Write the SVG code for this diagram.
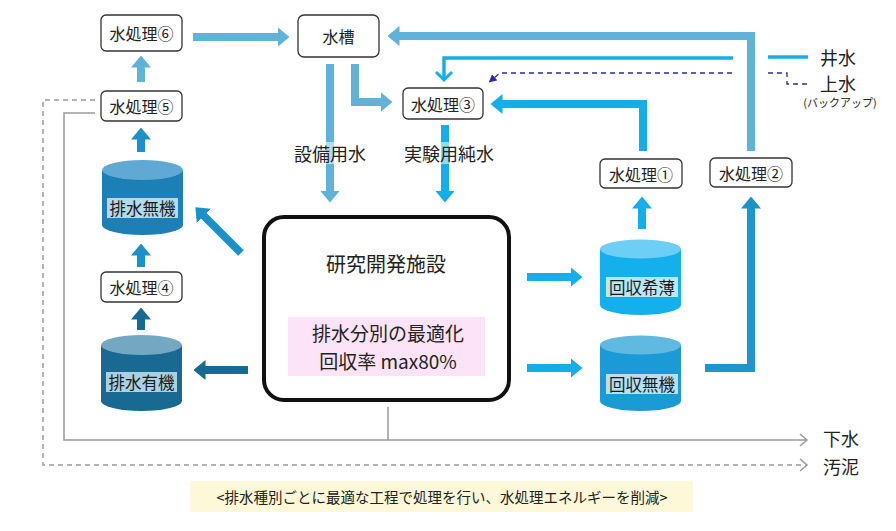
<svg xmlns="http://www.w3.org/2000/svg" width="896" height="531" viewBox="0 0 896 531">
<style>
text{font-family:"Noto Sans CJK JP","Noto Sans",sans-serif;fill:#222;}
.box{fill:#fff;stroke:#333;stroke-width:1.3;}
.nt{font-size:16px;text-anchor:middle;dominant-baseline:central;}
.lt{font-size:18px;text-anchor:middle;dominant-baseline:central;}
.cl{font-size:16.5px;text-anchor:middle;dominant-baseline:central;fill:#1a1a1a;}
.a{fill:none;stroke-width:8;}
.light{stroke:#5fb2d8;}
.bright{stroke:#14aee8;}
.med{stroke:#1a91c9;}
.dark{stroke:#176a91;}
.gray{fill:none;stroke:#9a9a9a;stroke-width:1.5;}
.gdash{fill:none;stroke:#9a9a9a;stroke-width:1.5;stroke-dasharray:5 4;}
</style>
<defs>
<marker id="hL" markerUnits="userSpaceOnUse" viewBox="0 0 12 20" markerWidth="12" markerHeight="20" refX="0.5" refY="10" orient="auto"><path d="M0,0L12,10L0,20z" fill="#5fb2d8"/></marker>
<marker id="hB" markerUnits="userSpaceOnUse" viewBox="0 0 12 20" markerWidth="12" markerHeight="20" refX="0.5" refY="10" orient="auto"><path d="M0,0L12,10L0,20z" fill="#14aee8"/></marker>
<marker id="hM" markerUnits="userSpaceOnUse" viewBox="0 0 12 20" markerWidth="12" markerHeight="20" refX="0.5" refY="10" orient="auto"><path d="M0,0L12,10L0,20z" fill="#1a91c9"/></marker>
<marker id="hD" markerUnits="userSpaceOnUse" viewBox="0 0 12 20" markerWidth="12" markerHeight="20" refX="0.5" refY="10" orient="auto"><path d="M0,0L12,10L0,20z" fill="#176a91"/></marker>
<marker id="hP" markerUnits="userSpaceOnUse" viewBox="0 0 8 8" markerWidth="8" markerHeight="8" refX="1" refY="4" orient="auto"><path d="M0,0L8,4L0,8z" fill="#2a2aa8"/></marker>
</defs>

<g id="connectors">
<path class="gray" d="M95,113H64V440H806"/>
<path class="gray" d="M388,407V440"/>
<path class="gray" d="M800,434L807,440L800,446"/>
<path class="gdash" d="M95,100H43V465H806"/>
<path class="gray" d="M800,459L807,465L800,471"/>

<path class="a light" d="M141,82V67" marker-end="url(#hL)"/>
<path class="a light" d="M193,37H278" marker-end="url(#hL)"/>
<path class="a light" d="M330,64V191" marker-end="url(#hL)"/>
<path class="a light" d="M355,64V102H381" marker-end="url(#hL)"/>
<path class="a light" d="M751,151V36H399" marker-end="url(#hL)"/>
<path class="a bright" d="M445,125V191" marker-end="url(#hB)"/>
<path class="a bright" d="M643,151V104H502" marker-end="url(#hB)"/>
<path class="a bright" d="M642,229V208" marker-end="url(#hB)"/>
<path class="a bright" d="M527,277H571" marker-end="url(#hB)"/>
<path class="a bright" d="M527,368H571" marker-end="url(#hB)"/>
<path class="a med" d="M141,152V139" marker-end="url(#hM)"/>
<path class="a med" d="M141,267V255" marker-end="url(#hM)"/>
<path class="a med" d="M241,253L203.5,215.5" marker-end="url(#hM)"/>
<path class="a med" style="stroke:#1a97cf" d="M705,368H751V208" marker-end="url(#hM)"/>
<path class="a dark" d="M141,330V319" marker-end="url(#hD)"/>
<path class="a dark" d="M248,370H205" marker-end="url(#hD)"/>
<path fill="none" stroke="#14aee8" stroke-width="3.5" d="M733,58H444V80"/>
<path fill="none" stroke="#14aee8" stroke-width="3" d="M436,72L444,80L452,72"/>
<path fill="none" stroke="#14aee8" stroke-width="3.5" d="M768,57H808"/>
<path fill="none" stroke="#2a2aa8" stroke-width="1.3" stroke-dasharray="5 4" d="M732,73H500L494,78" marker-end="url(#hP)"/>
<path fill="none" stroke="#2a2aa8" stroke-width="1.3" stroke-dasharray="5 4" d="M768,73H787V84H808"/>
</g>

<rect x="323" y="142" width="14" height="22" fill="#fff" opacity="0.55"/>
<rect x="438" y="142" width="14" height="22" fill="#fff" opacity="0.55"/>
<text class="lt" x="330" y="153">設備用水</text>
<text class="lt" x="449" y="153">実験用純水</text>

<g id="wt6"><rect class="box" x="101" y="15" width="81" height="36" rx="5"/><text class="nt" x="141.5" y="33">水処理⑥</text></g>
<g id="tank"><rect class="box" x="298" y="15" width="81" height="42" rx="6"/><text class="nt" x="338.5" y="36">水槽</text></g>
<g id="wt5"><rect class="box" x="101" y="91" width="81" height="30" rx="5"/><text class="nt" x="141.5" y="106">水処理⑤</text></g>
<g id="wt3"><rect class="box" x="403" y="88" width="80" height="31" rx="5"/><text class="nt" x="443" y="103.5">水処理③</text></g>
<g id="wt1"><rect class="box" x="600" y="159" width="82" height="29" rx="5"/><text class="nt" x="641" y="173.5">水処理①</text></g>
<g id="wt2"><rect class="box" x="710" y="158" width="82" height="29" rx="5"/><text class="nt" x="751" y="172.5">水処理②</text></g>
<g id="wt4"><rect class="box" x="101" y="272" width="81" height="30" rx="5"/><text class="nt" x="141.5" y="287">水処理④</text></g>

<g id="drain-inorganic">
<path d="M102,170V225A40.5,10 0 0 0 183,225V170z" fill="#1c80b6"/>
<ellipse cx="142.5" cy="170" rx="40.5" ry="10" fill="#5fa9d4"/>
<rect x="107" y="198" width="71" height="20" fill="#b3d9ec"/>
<text class="cl" x="142.5" y="208">排水無機</text>
</g>
<g id="drain-organic">
<path d="M101,345V401A40.5,10 0 0 0 182,401V345z" fill="#186a92"/>
<ellipse cx="141.5" cy="345" rx="40.5" ry="10" fill="#74a8c2"/>
<rect x="106" y="372" width="71" height="20" fill="#abd0e1"/>
<text class="cl" x="141.5" y="382">排水有機</text>
</g>
<g id="recover-dilute">
<path d="M600,249V305A40.5,10 0 0 0 681,305V249z" fill="#14b0ec"/>
<ellipse cx="640.5" cy="249" rx="40.5" ry="9.5" fill="#6dcff5"/>
<rect x="606" y="277" width="72" height="20" fill="#bce7f8"/>
<text class="cl" x="642" y="287">回収希薄</text>
</g>
<g id="recover-inorganic">
<path d="M600,345V401A40.5,10 0 0 0 681,401V345z" fill="#1a9bd6"/>
<ellipse cx="640.5" cy="345" rx="40.5" ry="9.5" fill="#60b9e0"/>
<rect x="606" y="374" width="72" height="20" fill="#b6dff2"/>
<text class="cl" x="642" y="384">回収無機</text>
</g>

<g id="facility">
<rect x="264" y="217" width="245" height="183" rx="20" fill="#fff" stroke="#111" stroke-width="4"/>
<text x="386" y="263" font-size="20" text-anchor="middle" dominant-baseline="central">研究開発施設</text>
<rect x="288" y="317" width="197" height="59" fill="#fce3f8"/>
<text x="388" y="332" font-size="19" text-anchor="middle" dominant-baseline="central">排水分別の最適化</text>
<text x="388" y="360" font-size="19" text-anchor="middle" dominant-baseline="central">回収率 max80%</text>
</g>

<g id="legend">
<text x="838" y="57" font-size="18" text-anchor="middle" dominant-baseline="central">井水</text>
<text x="838" y="83" font-size="18" text-anchor="middle" dominant-baseline="central">上水</text>
<text x="840" y="102" font-size="11" text-anchor="middle" dominant-baseline="central">(バックアップ)</text>
<text x="841" y="438" font-size="18" text-anchor="middle" dominant-baseline="central">下水</text>
<text x="841" y="466" font-size="18" text-anchor="middle" dominant-baseline="central">汚泥</text>
</g>

<g id="note">
<rect x="190" y="481" width="503" height="31" fill="#fdf8d8"/>
<text x="442" y="496.5" font-size="14.5" text-anchor="middle" dominant-baseline="central">&lt;排水種別ごとに最適な工程で処理を行い、水処理エネルギーを削減&gt;</text>
</g>
</svg>
